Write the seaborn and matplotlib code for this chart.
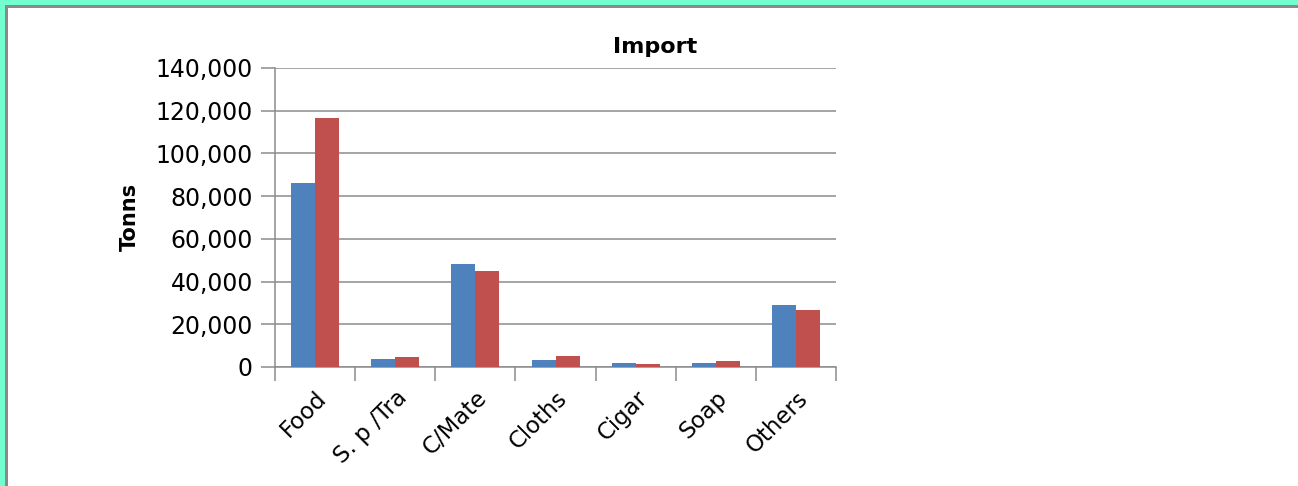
import numpy as np
import pandas as pd
import matplotlib
matplotlib.use("Agg")
import matplotlib.pyplot as plt
import seaborn as sns
from matplotlib.patches import Rectangle
from matplotlib.ticker import FuncFormatter, MultipleLocator

categories = ['Food', 'S. p /Tra', 'C/Mate', 'Cloths', 'Cigar', 'Soap', 'Others']
series_a = [86100, 3900, 48100, 3300, 2000, 2000, 28900]
series_b = [116500, 4500, 44900, 5000, 1300, 2700, 26800]
series_names = ['A', 'B']

df = pd.DataFrame({'category': categories * 2,
                   'series': [series_names[0]] * 7 + [series_names[1]] * 7,
                   'value': series_a + series_b})

sns.set_style("white")
plt.rcParams['font.family'] = ['DejaVu Sans']
plt.rcParams['text.color'] = 'black'
plt.rcParams['xtick.color'] = 'black'
plt.rcParams['ytick.color'] = 'black'

fig = plt.figure(figsize=(12.98, 4.86), dpi=100)
ax = fig.add_axes([0.2119, 0.2449, 0.4322, 0.6152])

sns.barplot(data=df, x='category', y='value', hue='series',
            palette=['#4F81BD', '#C0504D'], width=0.6, gap=0,
            saturation=1, legend=False, ax=ax, zorder=3,
            edgecolor='none', linewidth=0)

ax.set_ylim(0, 140000)
ax.set_xlim(-0.5, len(categories) - 0.5)
ax.yaxis.set_major_locator(MultipleLocator(20000))
ax.yaxis.set_major_formatter(FuncFormatter(lambda v, p: f"{int(v):,}"))
ax.grid(axis='y', color='#8C8C8C', linewidth=1.1, zorder=0)
ax.set_axisbelow(True)

for s in ['top', 'right']:
    ax.spines[s].set_visible(False)
for s in ['left', 'bottom']:
    ax.spines[s].set_color('#8C8C8C')
    ax.spines[s].set_linewidth(1.1)

ax.tick_params(axis='y', which='major', length=10, width=1.1, color='#8C8C8C',
               labelsize=17, pad=6, left=True, labelcolor='black')
ax.set_xticks(np.arange(len(categories)))
ax.set_xticklabels(categories, rotation=45, ha='right', rotation_mode='anchor')
ax.tick_params(axis='x', which='major', length=0, labelsize=16.5, pad=14,
               labelcolor='black')
ax.set_xticks(np.arange(-0.5, len(categories)), minor=True)
ax.tick_params(axis='x', which='minor', length=10, width=1.1, color='#8C8C8C',
               bottom=True)

ax.set_xlabel('')
ax.set_ylabel('')
fig.text(0.100, 0.553, 'Tonns', rotation=90, ha='center', va='center',
         fontsize=15, fontweight='bold', color='black')
fig.text(0.5046, 0.903, 'Import', ha='center', va='center',
         fontsize=16, fontweight='bold', color='black')

# frame around the picture
fig.patches.append(Rectangle((0, 1 - 5 / 486), 1, 5 / 486, transform=fig.transFigure,
                             facecolor='#72FECF', edgecolor='none'))
fig.patches.append(Rectangle((0, 1 - 8 / 486), 1, 3 / 486, transform=fig.transFigure,
                             facecolor='#8A8A8A', edgecolor='none'))
fig.patches.append(Rectangle((0, 0), 5 / 1298, 1, transform=fig.transFigure,
                             facecolor='#72FECF', edgecolor='none'))
fig.patches.append(Rectangle((5 / 1298, 0), 3 / 1298, 1 - 5 / 486, transform=fig.transFigure,
                             facecolor='#8A8A8A', edgecolor='none'))

fig.savefig('out.png', dpi=100, facecolor='white')
